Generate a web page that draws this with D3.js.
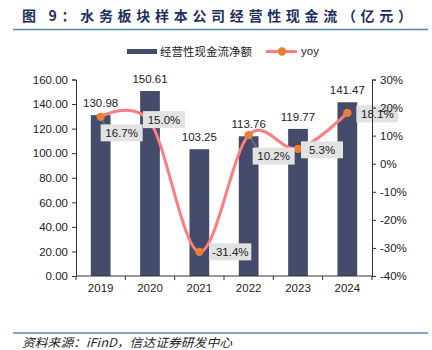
<!DOCTYPE html>
<html lang="zh">
<head>
<meta charset="UTF-8">
<title>水务板块样本公司经营性现金流</title>
<script src="https://d3js.org/d3.v7.min.js"></script>
<style>
    body { margin: 0; background: #fff; }
    svg { display: block; font-family: "Liberation Sans", Arial, sans-serif; }
</style>
</head>
<body>
<div id="chart"></div>
<script>
    // data
    const years = ["2019", "2020", "2021", "2022", "2023", "2024"];
    const cashFlow = [130.98, 150.61, 103.25, 113.76, 119.77, 141.47];
    const yoy = [16.7, 15.0, -31.4, 10.2, 5.3, 18.1];
    const leftTicks = [0, 20, 40, 60, 80, 100, 120, 140, 160];
    const rightTicks = [30, 20, 10, 0, -10, -20, -30, -40];
    // label box offsets from each point (dx, dy of box centre)
    const labelOffsets = [[21, 16], [14, -2], [31, 0], [25, 21], [24, 1], [30, 1]];

    const width = 432, height = 350;
    const plotLeft = 76, plotRight = 372, plotTop = 79.5, plotBottom = 276;

    const svg = d3.select("#chart").append("svg")
        .attr("width", width)
        .attr("height", height);

    // title
    svg.append("text")
        .attr("x", 22).attr("y", 21)
        .attr("textLength", 390)
        .attr("lengthAdjust", "spacing")
        .attr("font-family", "'Noto Sans CJK SC', sans-serif")
        .attr("font-weight", "bold")
        .attr("font-size", 14)
        .attr("fill", "#1f3060")
        .text("图 9：水务板块样本公司经营性现金流（亿元）");

    svg.append("line")
        .attr("x1", 13).attr("x2", 428).attr("y1", 29.5).attr("y2", 29.5)
        .attr("stroke", "#5f82aa").attr("stroke-width", 1.5);

    // scales
    const x = d3.scaleBand().domain(years).range([plotLeft, plotRight]).paddingInner(0.6).paddingOuter(0.3);
    const xBoundary = d3.scaleLinear().domain([0, years.length]).range([plotLeft, plotRight]);
    const y = d3.scaleLinear().domain([0, 160]).range([plotBottom, plotTop]);
    const y2 = d3.scaleLinear().domain([-40, 30]).range([plotBottom, plotTop]);

    // bars
    svg.append("g").selectAll("rect")
        .data(cashFlow)
        .join("rect")
        .attr("x", (d, i) => x(years[i]))
        .attr("width", x.bandwidth())
        .attr("y", d => y(d))
        .attr("height", d => y(0) - y(d))
        .attr("fill", "#454b6b");

    // bar value labels
    svg.append("g").selectAll("text")
        .data(cashFlow)
        .join("text")
        .attr("x", (d, i) => x(years[i]) + x.bandwidth() / 2)
        .attr("y", d => y(d) - 8)
        .attr("text-anchor", "middle")
        .attr("font-size", 11.5)
        .attr("fill", "#222")
        .text(d => d.toFixed(2));

    // yoy line
    const pts = yoy.map((d, i) => [x(years[i]) + x.bandwidth() / 2, y2(d)]);
    svg.append("path")
        .datum(pts)
        .attr("d", d3.line().curve(d3.curveCatmullRom.alpha(0)))
        .attr("fill", "none")
        .attr("stroke", "#ff7c80")
        .attr("stroke-width", 3);

    svg.append("g").selectAll("circle")
        .data(pts)
        .join("circle")
        .attr("cx", d => d[0]).attr("cy", d => d[1])
        .attr("r", 4.2)
        .attr("fill", "#ed7d31");

    // leader lines + label boxes
    const labels = svg.append("g");
    pts.forEach((p, i) => {
        const cx = p[0] + labelOffsets[i][0], cy = p[1] + labelOffsets[i][1];
        const w = 42, h = 17;
        if (i === 0 || i === 3) {
            labels.append("line")
                .attr("x1", p[0]).attr("y1", p[1])
                .attr("x2", cx - w / 2 + 4).attr("y2", cy - h / 2)
                .attr("stroke", "#999").attr("stroke-width", 0.8);
        }
        labels.append("rect")
            .attr("x", cx - w / 2).attr("y", cy - h / 2)
            .attr("width", w).attr("height", h)
            .attr("fill", "#e2e2e2");
        labels.append("text")
            .attr("x", cx).attr("y", cy + 4)
            .attr("text-anchor", "middle")
            .attr("font-size", 11.5)
            .attr("fill", "#222")
            .text(yoy[i].toFixed(1) + "%");
    });

    // axes
    const axisL = svg.append("g")
        .attr("transform", `translate(${plotLeft},0)`)
        .call(d3.axisLeft(y).tickValues(leftTicks).tickFormat(d3.format(".2f")).tickSize(4).tickPadding(4));
    const axisR = svg.append("g")
        .attr("transform", `translate(${plotRight},0)`)
        .call(d3.axisRight(y2).tickValues(rightTicks).tickFormat(d => d + "%").tickSize(4).tickPadding(4));
    const axisB = svg.append("g")
        .attr("transform", `translate(0,${plotBottom})`)
        .call(d3.axisBottom(x).tickSize(0).tickPadding(8));
    svg.append("g").selectAll("line")
        .data(d3.range(years.length + 1))
        .join("line")
        .attr("x1", d => xBoundary(d)).attr("x2", d => xBoundary(d))
        .attr("y1", plotBottom).attr("y2", plotBottom + 4)
        .attr("stroke", "#333");

    [axisL, axisR, axisB].forEach(a => {
        a.select(".domain").attr("stroke", "#333");
        a.selectAll(".tick line").attr("stroke", "#333");
        a.selectAll("text").attr("font-size", 11.5).attr("fill", "#222")
            .attr("font-family", "'Liberation Sans', Arial, sans-serif");
    });
    axisB.select(".domain").attr("d", `M${plotLeft},0H${plotRight}`);

    // legend
    const legend = svg.append("g");
    legend.append("rect").attr("x", 127).attr("y", 49).attr("width", 30).attr("height", 5).attr("fill", "#454b6b");
    legend.append("text").attr("x", 160).attr("y", 55.5)
        .attr("font-family", "'Noto Sans CJK SC', sans-serif")
        .attr("font-size", 11.5).attr("fill", "#222").text("经营性现金流净额");
    legend.append("line").attr("x1", 266).attr("x2", 297).attr("y1", 51.5).attr("y2", 51.5)
        .attr("stroke", "#ff7c80").attr("stroke-width", 3);
    legend.append("circle").attr("cx", 282).attr("cy", 51.5).attr("r", 4.2).attr("fill", "#ed7d31");
    legend.append("text").attr("x", 301).attr("y", 55).attr("font-size", 11.5).attr("fill", "#222").text("yoy");

    // source
    svg.append("line")
        .attr("x1", 13).attr("x2", 428).attr("y1", 333).attr("y2", 333)
        .attr("stroke", "#5f82aa").attr("stroke-width", 1.5);
    svg.append("text")
        .attr("x", 22).attr("y", 347)
        .attr("textLength", 210)
        .attr("lengthAdjust", "spacingAndGlyphs")
        .attr("font-family", "'Noto Sans CJK SC', sans-serif")
        .attr("font-style", "italic")
        .attr("font-size", 12)
        .attr("fill", "#222")
        .text("资料来源：iFinD，信达证券研发中心");
</script>
</body>
</html>
